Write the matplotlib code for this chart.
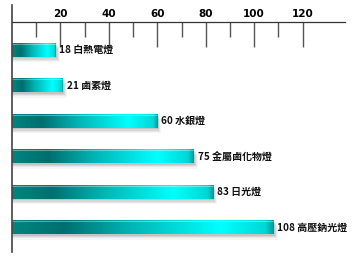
import numpy as np
import matplotlib
matplotlib.use('Agg')
from matplotlib import pyplot as plt
from matplotlib.colors import LinearSegmentedColormap
from matplotlib.patches import Rectangle

# data: lamp efficacy
lamp_names = ['白熱電燈', '鹵素燈', '水銀燈', '金屬鹵化物燈', '日光燈', '高壓鈉光燈']
lamp_values = [18, 21, 60, 75, 83, 108]
major_ticks = [20, 40, 60, 80, 100, 120]
minor_ticks = [10, 30, 50, 70, 90, 110]

plt.rcParams['font.family'] = ['Noto Sans CJK TC', 'DejaVu Sans']

bar_cmap = LinearSegmentedColormap.from_list('teal_bar', [
    (0.0, '#00857f'),
    (0.2, '#006f6f'),
    (0.45, '#00b4b4'),
    (0.8, '#00ffff'),
    (0.97, '#00d6d6'),
    (1.0, '#009a9a'),
])


def main():
    fig = plt.figure(figsize=(3.58, 2.61), dpi=100)
    ax = fig.add_axes([12 / 358, 1 - 252 / 261, 333 / 358, 230 / 261])
    ax.set_xlim(0, 137.5)
    ax.set_ylim(5.69, -0.79)

    bar_h = 0.39
    grad = np.linspace(0, 1, 256).reshape(1, -1)
    for i, v in enumerate(lamp_values):
        # soft shadow
        for k, a in enumerate([0.14, 0.11, 0.08, 0.05]):
            off = 0.04 + 0.035 * k
            ax.add_patch(Rectangle((0, i - bar_h / 2 + off), v + 0.5 + 0.4 * k, bar_h,
                                   facecolor='#505050', alpha=a, edgecolor='none', zorder=1))
        ax.imshow(grad, cmap=bar_cmap, aspect='auto', interpolation='bilinear',
                  extent=(0, v, i + bar_h / 2, i - bar_h / 2), zorder=2)
        # top highlight
        ax.plot([0, v], [i - bar_h / 2 + 0.02, i - bar_h / 2 + 0.02], color='white',
                alpha=0.35, linewidth=0.8, zorder=3)
        ax.text(v + 1.6, i, f'{v} {lamp_names[i]}', va='center', ha='left',
                fontsize=7.2, fontweight='bold', color='#111111', zorder=4)

    for s in ['right', 'bottom']:
        ax.spines[s].set_visible(False)
    ax.spines['top'].set_color('#333333')
    ax.spines['top'].set_linewidth(0.9)
    ax.spines['left'].set_visible(False)
    ax.plot([0, 0], [1.075, 0], transform=ax.transAxes, color='#444444',
            linewidth=1.2, clip_on=False, zorder=5)

    ax.xaxis.tick_top()
    ax.set_xticks(major_ticks)
    ax.set_xticks(minor_ticks, minor=True)
    ax.tick_params(axis='x', which='major', direction='in', length=18, width=1.0,
                   color='#555555', pad=2, labelsize=7.5)
    ax.tick_params(axis='x', which='minor', direction='in', length=11, width=1.0,
                   color='#555555')
    for lab in ax.get_xticklabels():
        lab.set_fontweight('bold')
        lab.set_family(['DejaVu Sans'])
    ax.set_yticks([])
    fig.savefig('out.png', dpi=100)


if __name__ == '__main__':
    main()
